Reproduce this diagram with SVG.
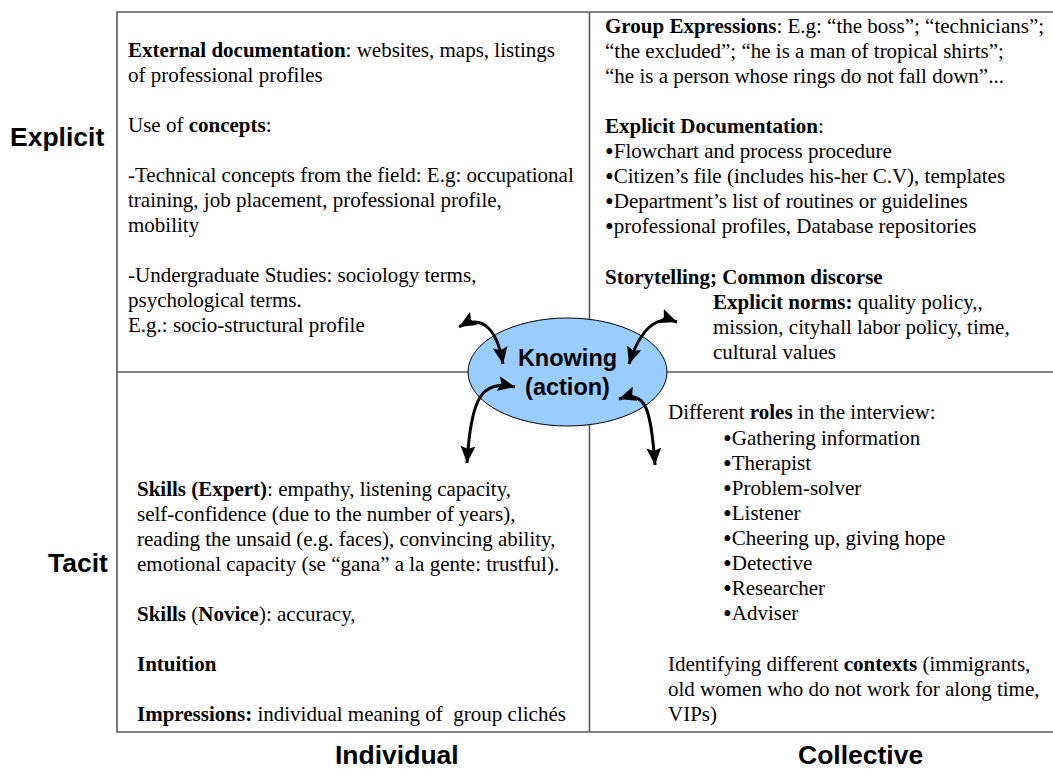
<svg xmlns="http://www.w3.org/2000/svg" width="1053" height="769" viewBox="0 0 1053 769">
  <style>
    .grid { stroke: #5a5a5a; stroke-width: 1.6; fill: none; }
    .body { font-family: "Liberation Serif", "Times New Roman", serif; font-size: 21px; fill: #000; }
    .b { font-weight: bold; }
    .dot { font-size: 25px; }
    .axis { font-family: "Liberation Sans", Arial, sans-serif; font-size: 26.5px; font-weight: bold; fill: #000; }
    .hub { font-family: "Liberation Sans", Arial, sans-serif; font-size: 23.5px; font-weight: bold; fill: #000; text-anchor: middle; }
    .conn { stroke: #000; stroke-width: 3; fill: none; marker-start: url(#head); marker-end: url(#head); }
  </style>
  <defs>
    <marker id="head" viewBox="0 0 17 15" refX="17" refY="7.5" markerWidth="17" markerHeight="15" markerUnits="userSpaceOnUse" orient="auto-start-reverse">
      <path d="M0,0 L17,7.5 L0,15 L3,7.5 Z" fill="#000"/>
    </marker>
  </defs>
  <rect width="1053" height="769" fill="#fff"/>

  <!-- quadrant frame -->
  <g id="frame">
    <path class="grid" d="M1060,12 H117 V732 H1060"/>
    <line class="grid" x1="589.5" y1="12" x2="589.5" y2="732"/>
    <line class="grid" x1="117" y1="372" x2="1060" y2="372"/>
  </g>

  <!-- axis labels -->
  <g id="axis-labels">
    <text class="axis" x="10" y="146">Explicit</text>
    <text class="axis" x="48" y="572">Tacit</text>
    <text class="axis" x="335" y="764">Individual</text>
    <text class="axis" x="798" y="764">Collective</text>
  </g>

  <!-- explicit / individual -->
  <g id="explicit-individual" class="body">
    <text x="128" y="57"><tspan class="b">External documentation</tspan>: websites, maps, listings</text>
    <text x="128" y="82">of professional profiles</text>
    <text x="128" y="132">Use of <tspan class="b">concepts</tspan>:</text>
    <text x="128" y="182">-Technical concepts from the field: E.g: occupational</text>
    <text x="128" y="207">training, job placement, professional profile,</text>
    <text x="128" y="232">mobility</text>
    <text x="128" y="282">-Undergraduate Studies: sociology terms,</text>
    <text x="128" y="307">psychological terms.</text>
    <text x="128" y="332">E.g.: socio-structural profile</text>
  </g>

  <!-- explicit / collective -->
  <g id="explicit-collective" class="body">
    <text x="605" y="33"><tspan class="b">Group Expressions</tspan>: E.g: “the boss”; “technicians”;</text>
    <text x="605" y="58">“the excluded”; “he is a man of tropical shirts”;</text>
    <text x="605" y="83">“he is a person whose rings do not fall down”...</text>
    <text x="605" y="133"><tspan class="b">Explicit Documentation</tspan>:</text>
    <text x="605" y="158"><tspan class="dot" dy="1.5">•</tspan><tspan dy="-1.5">Flowchart and process procedure</tspan></text>
    <text x="605" y="183"><tspan class="dot" dy="1.5">•</tspan><tspan dy="-1.5">Citizen’s file (includes his-her C.V), templates</tspan></text>
    <text x="605" y="208"><tspan class="dot" dy="1.5">•</tspan><tspan dy="-1.5">Department’s list of routines or guidelines</tspan></text>
    <text x="605" y="233"><tspan class="dot" dy="1.5">•</tspan><tspan dy="-1.5">professional profiles, Database repositories</tspan></text>
    <text x="605" y="284" class="b">Storytelling; Common discorse</text>
    <text x="713" y="309"><tspan class="b">Explicit norms:</tspan> quality policy,,</text>
    <text x="713" y="334">mission, cityhall labor policy, time,</text>
    <text x="713" y="359">cultural values</text>
  </g>

  <!-- tacit / individual -->
  <g id="tacit-individual" class="body">
    <text x="137" y="496"><tspan class="b">Skills (Expert)</tspan>: empathy, listening capacity,</text>
    <text x="137" y="521">self-confidence (due to the number of years),</text>
    <text x="137" y="546">reading the unsaid (e.g. faces), convincing ability,</text>
    <text x="137" y="571">emotional capacity (se “gana” a la gente: trustful).</text>
    <text x="137" y="621"><tspan class="b">Skills</tspan> (<tspan class="b">Novice</tspan>): accuracy,</text>
    <text x="137" y="671" class="b">Intuition</text>
    <text x="137" y="721"><tspan class="b">Impressions:</tspan> individual meaning of &#160;group clichés</text>
  </g>

  <!-- tacit / collective -->
  <g id="tacit-collective" class="body">
    <text x="668" y="419">Different <tspan class="b">roles</tspan> in the interview:</text>
    <text x="723" y="445"><tspan class="dot" dy="1.5">•</tspan><tspan dy="-1.5">Gathering information</tspan></text>
    <text x="723" y="470"><tspan class="dot" dy="1.5">•</tspan><tspan dy="-1.5">Therapist</tspan></text>
    <text x="723" y="495"><tspan class="dot" dy="1.5">•</tspan><tspan dy="-1.5">Problem-solver</tspan></text>
    <text x="723" y="520"><tspan class="dot" dy="1.5">•</tspan><tspan dy="-1.5">Listener</tspan></text>
    <text x="723" y="545"><tspan class="dot" dy="1.5">•</tspan><tspan dy="-1.5">Cheering up, giving hope</tspan></text>
    <text x="723" y="570"><tspan class="dot" dy="1.5">•</tspan><tspan dy="-1.5">Detective</tspan></text>
    <text x="723" y="595"><tspan class="dot" dy="1.5">•</tspan><tspan dy="-1.5">Researcher</tspan></text>
    <text x="723" y="620"><tspan class="dot" dy="1.5">•</tspan><tspan dy="-1.5">Adviser</tspan></text>
    <text x="668" y="671">Identifying different <tspan class="b">contexts</tspan> (immigrants,</text>
    <text x="668" y="696">old women who do not work for along time,</text>
    <text x="668" y="721">VIPs)</text>
  </g>

  <!-- central hub -->
  <g id="knowing">
    <ellipse cx="567.5" cy="372" rx="99.5" ry="54" fill="#99ccff" stroke="#000" stroke-width="1"/>
    <text class="hub" x="567.5" y="366">Knowing</text>
    <text class="hub" x="567.5" y="395">(action)</text>
  </g>

  <!-- two-way links between the hub and each quadrant -->
  <g id="connectors">
    <path class="conn" d="M459,327 C478,316 496,322 503,364"/>
    <path class="conn" d="M515,387 C482,380 471,396 467,463"/>
    <path class="conn" d="M677,322 C656,314 640,330 629,364"/>
    <path class="conn" d="M619,399 C646,390 651,408 655,465"/>
  </g>
</svg>
